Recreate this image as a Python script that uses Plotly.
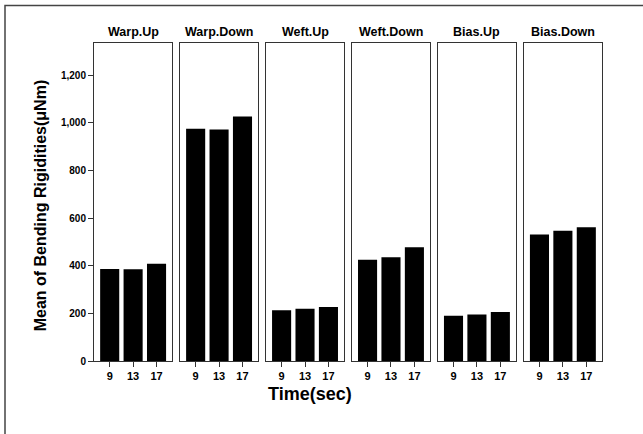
import plotly.graph_objects as go
from plotly.subplots import make_subplots

panels = ["Warp.Up", "Warp.Down", "Weft.Up", "Weft.Down", "Bias.Up", "Bias.Down"]
times = ["9", "13", "17"]
warp_up = [386, 385, 409]
warp_down = [976, 973, 1027]
weft_up = [213, 220, 227]
weft_down = [425, 436, 478]
bias_up = [190, 195, 206]
bias_down = [531, 547, 562]
series = [warp_up, warp_down, weft_up, weft_down, bias_up, bias_down]
y_ticks = [0, 200, 400, 600, 800, 1000, 1200]

FONT = "Liberation Sans"
LINE = "#333333"

fig = make_subplots(rows=1, cols=6, shared_yaxes=True, horizontal_spacing=0.0152)

for i, (name, vals) in enumerate(zip(panels, series)):
    fig.add_trace(go.Bar(x=times, y=vals, marker=dict(color="black", line=dict(width=0)),
                         showlegend=False, hoverinfo="skip"), row=1, col=i + 1)
    fig.update_xaxes(type="category", range=[-0.67, 2.67], showline=True, mirror=True,
                     linecolor=LINE, linewidth=1, ticks="outside", ticklen=5, tickcolor=LINE,
                     tickfont=dict(family=FONT, size=11, color="black", weight="bold"),
                     showgrid=False, zeroline=False, row=1, col=i + 1)
    fig.update_yaxes(range=[0, 1336], showline=True, mirror=True, linecolor=LINE, linewidth=1,
                     showgrid=False, zeroline=False, row=1, col=i + 1)

fig.update_yaxes(tickvals=y_ticks, ticktext=[f"{v:,}" for v in y_ticks], ticks="outside",
                 ticklen=5, tickcolor=LINE,
                 tickfont=dict(family=FONT, size=10, color="black", weight="bold"), row=1, col=1)

annotations = []
for i, name in enumerate(panels):
    xa = fig.layout["xaxis" if i == 0 else f"xaxis{i+1}"]
    cx = (xa.domain[0] + xa.domain[1]) / 2
    annotations.append(dict(text=name, x=cx, y=1.0, xref="paper", yref="paper",
                            xanchor="center", yanchor="bottom", yshift=2, showarrow=False,
                            font=dict(family=FONT, size=12.5, color="black", weight="bold")))
annotations.append(dict(text="Mean of Bending Rigidities(μNm)", x=-0.106, y=0.49,
                        xref="paper", yref="paper", textangle=-90, showarrow=False,
                        xanchor="center", yanchor="middle",
                        font=dict(family=FONT, size=16, color="black", weight="bold")))
annotations.append(dict(text="Time(sec)", x=(310 - 94) / 508, y=(361 - 394) / 318,
                        xref="paper", yref="paper", showarrow=False,
                        xanchor="center", yanchor="middle",
                        font=dict(family=FONT, size=18, color="black", weight="bold")))

shapes = [
    dict(type="rect", xref="paper", yref="paper", layer="above",
         x0=(5 - 94) / 508, x1=(700 - 94) / 508,
         y0=(361 - 500) / 318, y1=(361 - 5.5) / 318,
         line=dict(color="#444444", width=1.5), fillcolor="rgba(0,0,0,0)"),
]

fig.update_layout(width=643, height=434, margin=dict(l=94, r=41, t=43, b=73),
                  paper_bgcolor="white", plot_bgcolor="white", bargap=0.185,
                  annotations=annotations, shapes=shapes)

fig.write_html("out.html", config={"displayModeBar": False},
               post_script="document.body.style.margin='0';document.body.style.overflow='hidden';")
